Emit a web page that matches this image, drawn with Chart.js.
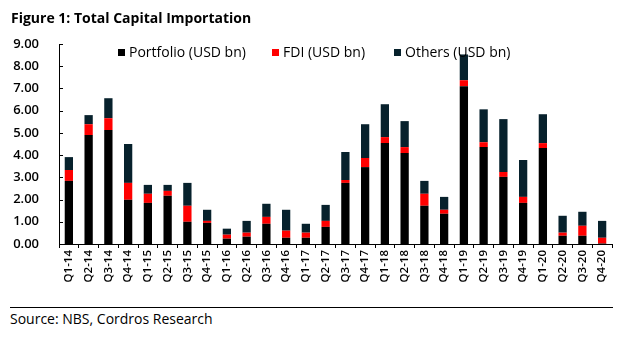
<!DOCTYPE html>
<html>
<head>
<meta charset="utf-8">
<script src="https://cdn.jsdelivr.net/npm/chart.js@4.4.0/dist/chart.umd.min.js"></script>
<style>
  body { margin: 0; background: #fff; font-family: 'Open Sans', sans-serif; }
  #wrap { position: relative; width: 620px; height: 339px; overflow: hidden; }
  #titulo { position: absolute; left: 11px; top: 8px; font-size: 14px; font-weight: 700; color: #000; }
  #grafico { position: absolute; left: 0; top: 0; }
  .leyenda { position: absolute; top: 42px; font-size: 14px; font-weight: 500; color: #000; white-space: nowrap; }
  .leyenda i { display: inline-block; width: 7px; height: 7px; margin-right: 4px; vertical-align: 1px; }
  #fuente { position: absolute; left: 10px; top: 307px; width: 603px; border-top: 1px solid #000; padding-top: 1px; font-size: 14px; font-weight: 500; color: #000; }
</style>
</head>
<body>
<div id="wrap">
  <canvas id="grafico" width="620" height="300"></canvas>
  <div id="titulo">Figure 1: Total Capital Importation</div>
  <div class="leyenda" style="left:118px"><i style="background:#000"></i>Portfolio (USD bn)</div>
  <div class="leyenda" style="left:272px"><i style="background:#ff0000"></i>FDI (USD bn)</div>
  <div class="leyenda" style="left:394px"><i style="background:#07212c"></i>Others (USD bn)</div>
  <div id="fuente">Source: NBS, Cordros Research</div>
</div>
<script>
// Datos trimestrales (USD bn)
const trimestres = ['Q1-14','Q2-14','Q3-14','Q4-14','Q1-15','Q2-15','Q3-15','Q4-15',
  'Q1-16','Q2-16','Q3-16','Q4-16','Q1-17','Q2-17','Q3-17','Q4-17',
  'Q1-18','Q2-18','Q3-18','Q4-18','Q1-19','Q2-19','Q3-19','Q4-19',
  'Q1-20','Q2-20','Q3-20','Q4-20'];
const portfolio = [2.84, 4.90, 5.13, 1.99, 1.85, 2.17, 1.00, 0.95,
  0.24, 0.33, 0.91, 0.28, 0.28, 0.77, 2.75, 3.46,
  4.54, 4.09, 1.72, 1.36, 7.10, 4.36, 3.02, 1.85,
  4.32, 0.37, 0.37, 0.02];
const fdi = [0.49, 0.49, 0.53, 0.76, 0.41, 0.22, 0.72, 0.09,
  0.18, 0.18, 0.31, 0.32, 0.23, 0.27, 0.13, 0.41,
  0.27, 0.27, 0.54, 0.18, 0.27, 0.22, 0.22, 0.27,
  0.22, 0.14, 0.45, 0.26];
const otros = [0.58, 0.41, 0.90, 1.75, 0.40, 0.27, 1.03, 0.50,
  0.27, 0.53, 0.59, 0.94, 0.40, 0.72, 1.26, 1.52,
  1.48, 1.17, 0.58, 0.58, 1.16, 1.48, 2.38, 1.66,
  1.30, 0.76, 0.63, 0.76];
const ticksY = [0, 1, 2, 3, 4, 5, 6, 7, 8, 9];

const fuenteTicks = { family: "'Open Sans', sans-serif", size: 13, weight: '600' };

// Marcas cortas hacia dentro en el eje Y
const marcasY = {
  id: 'marcasY',
  afterDraw(chart) {
    const ctx = chart.ctx;
    const y = chart.scales.y;
    ctx.save();
    ctx.strokeStyle = '#000';
    ctx.lineWidth = 1;
    ticksY.forEach(v => {
      const py = Math.round(y.getPixelForValue(v)) + 0.5;
      ctx.beginPath();
      ctx.moveTo(y.right, py);
      ctx.lineTo(y.right + 4, py);
      ctx.stroke();
    });
    ctx.restore();
  }
};

const ctx = document.getElementById('grafico').getContext('2d');
new Chart(ctx, {
  type: 'bar',
  data: {
    labels: trimestres,
    datasets: [
      { label: 'Portfolio (USD bn)', data: portfolio, backgroundColor: '#000000' },
      { label: 'FDI (USD bn)', data: fdi, backgroundColor: '#ff0000' },
      { label: 'Others (USD bn)', data: otros, backgroundColor: '#07212c' }
    ]
  },
  options: {
    responsive: false,
    animation: false,
    layout: { padding: { top: 44, right: 8, left: 0, bottom: 0 } },
    datasets: { bar: { barPercentage: 0.42, categoryPercentage: 1.0 } },
    plugins: { legend: { display: false }, tooltip: { enabled: false } },
    scales: {
      x: {
        stacked: true,
        grid: { drawOnChartArea: false, drawTicks: true, tickLength: 4, color: '#000', offset: true },
        border: { color: '#000', width: 1 },
        ticks: { color: '#000', font: { family: "'Open Sans', sans-serif", size: 11.5, weight: '600' },
          minRotation: 90, maxRotation: 90, autoSkip: false, padding: 2 },
        afterFit(scale) { scale.height = 56; }
      },
      y: {
        stacked: true,
        min: 0, max: 9,
        afterBuildTicks(scale) { scale.ticks = ticksY.map(v => ({ value: v })); },
        grid: { display: false },
        border: { color: '#000', width: 1 },
        ticks: { color: '#000', font: fuenteTicks, padding: 12, callback: v => v.toFixed(2) },
        afterFit(scale) { scale.width = 59; }
      }
    }
  },
  plugins: [marcasY]
});
</script>
</body>
</html>
